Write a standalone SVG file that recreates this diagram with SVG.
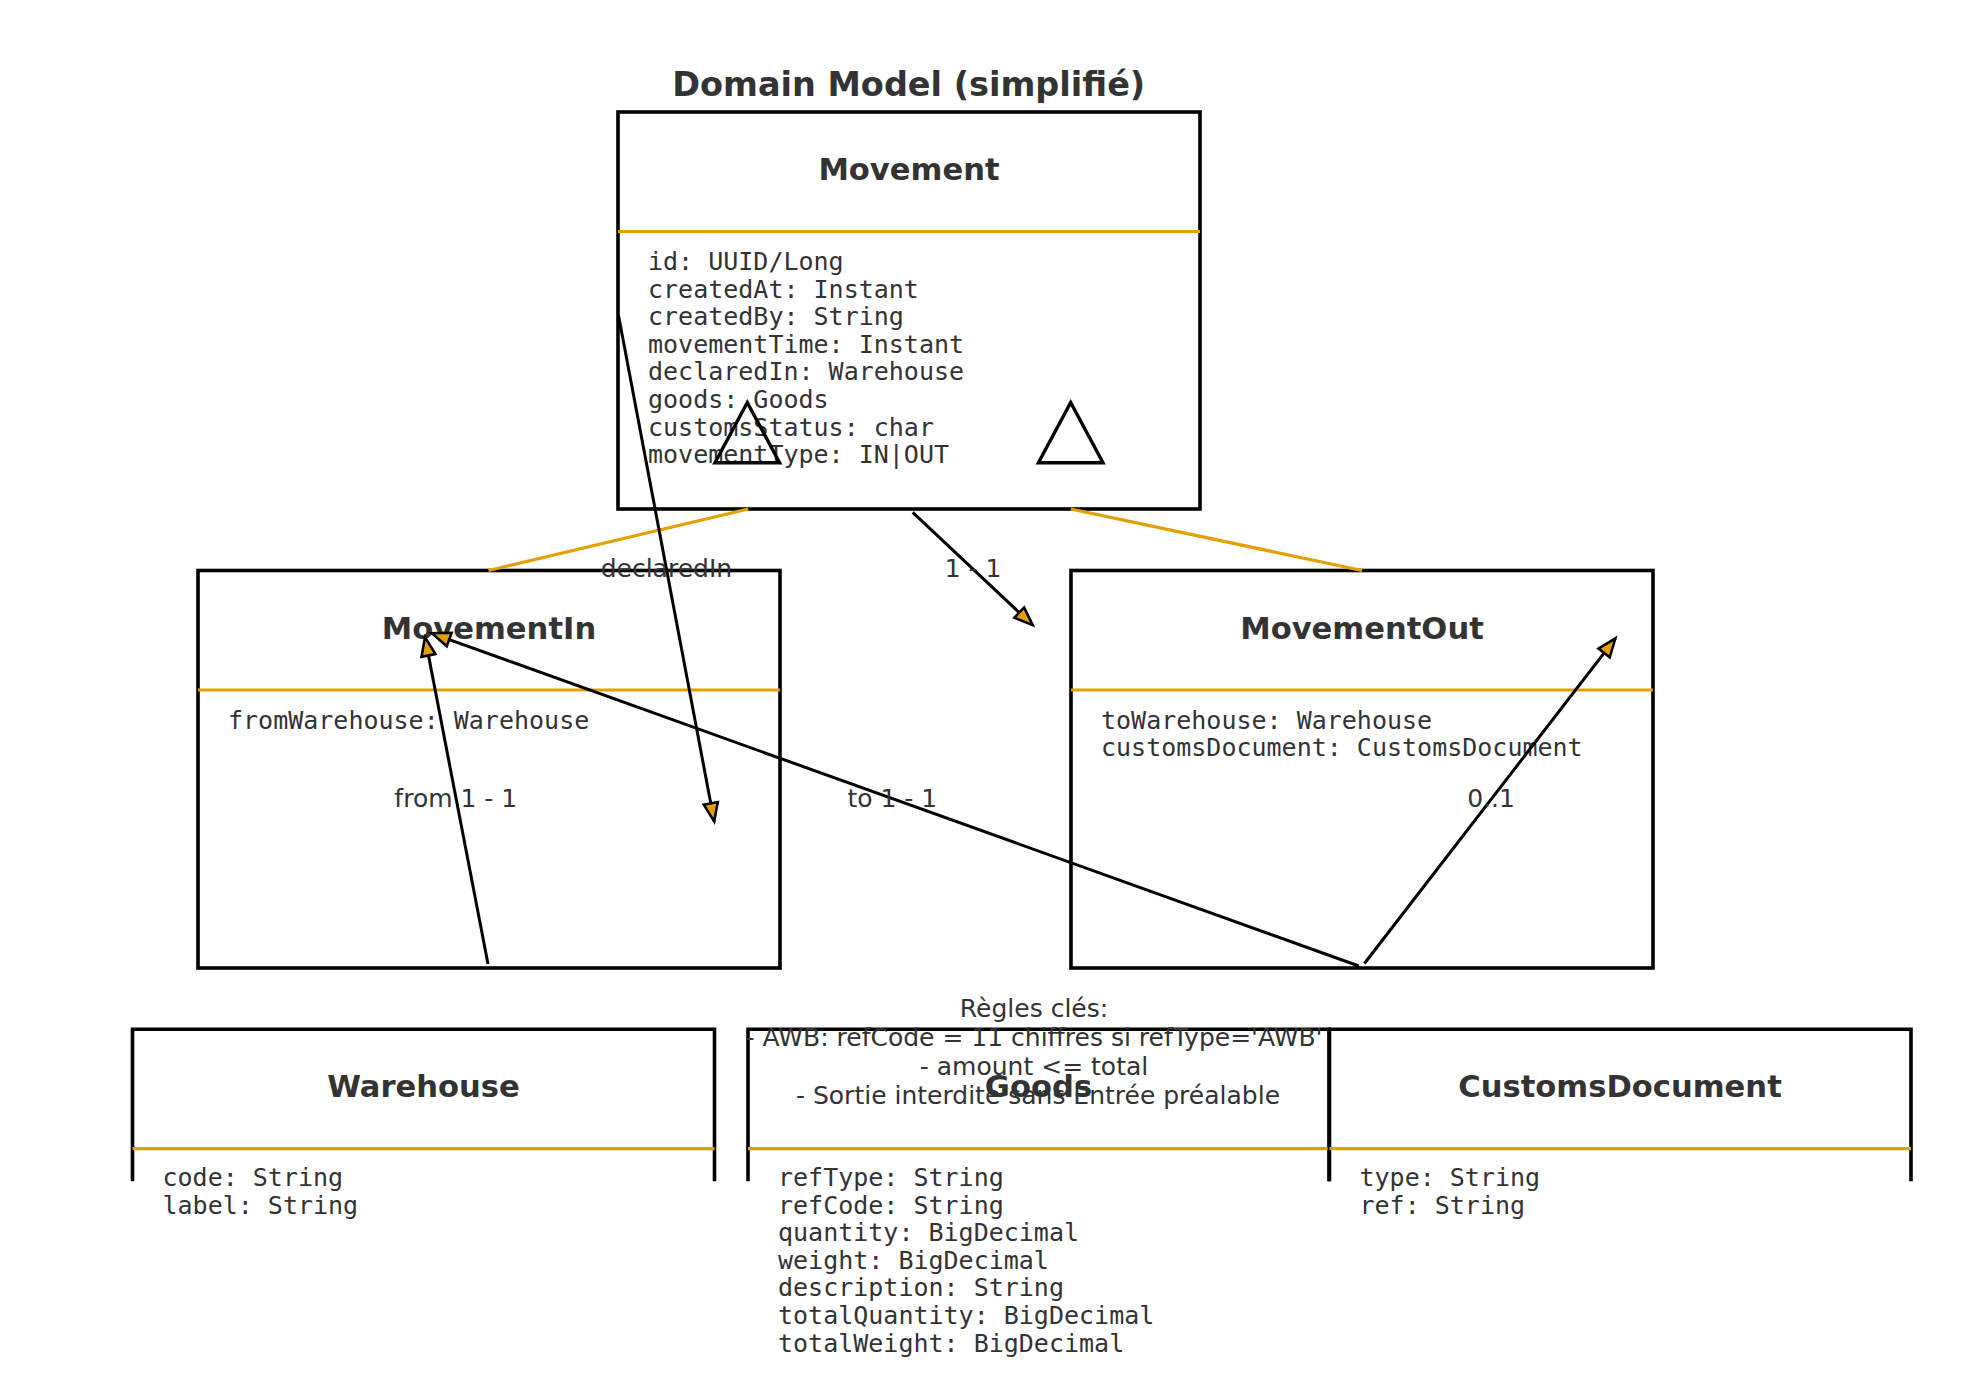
<svg xmlns="http://www.w3.org/2000/svg" width="1979" height="1379" viewBox="0 0 1979 1379">
  <style>
    .box { fill: #ffffff; stroke: #000000; stroke-width: 3.6; }
    .open { fill: none; stroke: #000000; stroke-width: 3.6; }
    .sep { stroke: #E69F00; stroke-width: 3.2; }
    .name { font-family: "DejaVu Sans", sans-serif; font-weight: bold; font-size: 30.6px; fill: #333333; text-anchor: middle; }
    .attr { font-family: "DejaVu Sans Mono", monospace; font-size: 25px; fill: #333333; }
    .lbl { font-family: "DejaVu Sans", sans-serif; font-size: 25px; fill: #333333; text-anchor: middle; }
    .title { font-family: "DejaVu Sans", sans-serif; font-weight: bold; font-size: 33.5px; fill: #333333; text-anchor: middle; }
    .edge { fill: none; stroke: #000000; stroke-width: 3; marker-end: url(#arrow); }
    .inherit { fill: none; stroke: #E69F00; stroke-width: 3.2; }
    .tri { fill: none; stroke: #000000; stroke-width: 3.4; }
  </style>
  <defs>
    <marker id="arrow" viewBox="0 0 10 8" refX="9.4" refY="4" markerWidth="21" markerHeight="16.8" markerUnits="userSpaceOnUse" orient="auto" overflow="visible">
      <path d="M0.6,0.6 L9.4,4 L0.6,7.4 z" fill="#E69F00" stroke="#000000" stroke-width="1.2" stroke-linejoin="miter"/>
    </marker>
  </defs>

  <rect width="1979" height="1379" fill="#ffffff"/>

  <text class="title" x="908.7" y="96">Domain Model (simplifié)</text>

  <!-- Movement (abstract parent) -->
  <g id="movement">
    <rect class="box" x="618" y="112" width="582" height="397"/>
    <line class="sep" x1="618" y1="231.5" x2="1200" y2="231.5"/>
    <text class="name" x="909" y="180">Movement</text>
    <text class="attr" x="648">
      <tspan x="648" y="270">id: UUID/Long</tspan>
      <tspan x="648" y="297.6">createdAt: Instant</tspan>
      <tspan x="648" y="325.2">createdBy: String</tspan>
      <tspan x="648" y="352.8">movementTime: Instant</tspan>
      <tspan x="648" y="380.4">declaredIn: Warehouse</tspan>
      <tspan x="648" y="408">goods: Goods</tspan>
      <tspan x="648" y="435.6">customsStatus: char</tspan>
      <tspan x="648" y="463.2">movementType: IN|OUT</tspan>
    </text>
    <polygon class="tri" points="747.3,402.5 715,462.7 779.6,462.7"/>
    <polygon class="tri" points="1070.7,402.5 1038.4,462.7 1103,462.7"/>
  </g>

  <!-- MovementIn -->
  <g id="movement-in">
    <rect class="box" x="198" y="570.5" width="582" height="397.5"/>
    <line class="sep" x1="198" y1="690" x2="780" y2="690"/>
    <text class="name" x="489" y="638.5">MovementIn</text>
    <text class="attr" x="228" y="728.5">fromWarehouse: Warehouse</text>
  </g>

  <!-- MovementOut -->
  <g id="movement-out">
    <rect class="box" x="1071" y="570.5" width="582" height="397.5"/>
    <line class="sep" x1="1071" y1="690" x2="1653" y2="690"/>
    <text class="name" x="1362" y="638.5">MovementOut</text>
    <text class="attr" x="1101">
      <tspan x="1101" y="728.5">toWarehouse: Warehouse</tspan>
      <tspan x="1101" y="756.1">customsDocument: CustomsDocument</tspan>
    </text>
  </g>

  <!-- Warehouse -->
  <g id="warehouse">
    <path class="open" d="M132.5,1181.3 V1029.3 H714.5 V1181.3"/>
    <line class="sep" x1="132.5" y1="1148.6" x2="714.5" y2="1148.6"/>
    <text class="name" x="423.5" y="1097.3">Warehouse</text>
    <text class="attr" x="162.5">
      <tspan x="162.5" y="1186">code: String</tspan>
      <tspan x="162.5" y="1213.6">label: String</tspan>
    </text>
  </g>

  <!-- Goods -->
  <g id="goods">
    <path class="open" d="M748,1181.3 V1029.3 H1329 V1181.3"/>
    <line class="sep" x1="748" y1="1148.6" x2="1329" y2="1148.6"/>
    <text class="name" x="1038.5" y="1097.3">Goods</text>
    <text class="attr" x="778">
      <tspan x="778" y="1186">refType: String</tspan>
      <tspan x="778" y="1213.6">refCode: String</tspan>
      <tspan x="778" y="1241.2">quantity: BigDecimal</tspan>
      <tspan x="778" y="1268.8">weight: BigDecimal</tspan>
      <tspan x="778" y="1296.4">description: String</tspan>
      <tspan x="778" y="1324">totalQuantity: BigDecimal</tspan>
      <tspan x="778" y="1351.6">totalWeight: BigDecimal</tspan>
    </text>
  </g>

  <!-- CustomsDocument -->
  <g id="customs-document">
    <path class="open" d="M1329.5,1181.3 V1029.3 H1911 V1181.3"/>
    <line class="sep" x1="1329.5" y1="1148.6" x2="1911" y2="1148.6"/>
    <text class="name" x="1620" y="1097.3">CustomsDocument</text>
    <text class="attr" x="1359.5">
      <tspan x="1359.5" y="1186">type: String</tspan>
      <tspan x="1359.5" y="1213.6">ref: String</tspan>
    </text>
  </g>

  <!-- Connectors: inheritance links and associations -->
  <g id="connectors">
    <line class="inherit" x1="748.3" y1="509" x2="488.5" y2="570.5"/>
    <line class="inherit" x1="1070.7" y1="509" x2="1362" y2="570.5"/>

    <line class="edge" x1="618.4" y1="315" x2="714.2" y2="821.5"/>
    <line class="edge" x1="912.7" y1="512.3" x2="1032.7" y2="625.2"/>
    <line class="edge" x1="488" y1="964" x2="425" y2="637.3"/>
    <line class="edge" x1="1358.8" y1="966" x2="431.8" y2="633.3"/>
    <line class="edge" x1="1364.4" y1="963.5" x2="1615.4" y2="638.3"/>

    <text class="lbl" x="666.4" y="577">declaredIn</text>
    <text class="lbl" x="973" y="577">1 - 1</text>
    <text class="lbl" x="455.8" y="806.7">from 1 - 1</text>
    <text class="lbl" x="892.3" y="806.7">to 1 - 1</text>
    <text class="lbl" x="1491" y="806.7">0..1</text>
  </g>

  <!-- Business rules note -->
  <g id="rules">
    <text class="lbl" x="1038">
      <tspan x="1038" y="1017.3">Règles clés:</tspan>
      <tspan x="1038" y="1046.3">- AWB: refCode = 11 chiffres si refType='AWB'</tspan>
      <tspan x="1038" y="1075">- amount &lt;= total</tspan>
      <tspan x="1038" y="1103.7">- Sortie interdite sans Entrée préalable</tspan>
    </text>
  </g>
</svg>
